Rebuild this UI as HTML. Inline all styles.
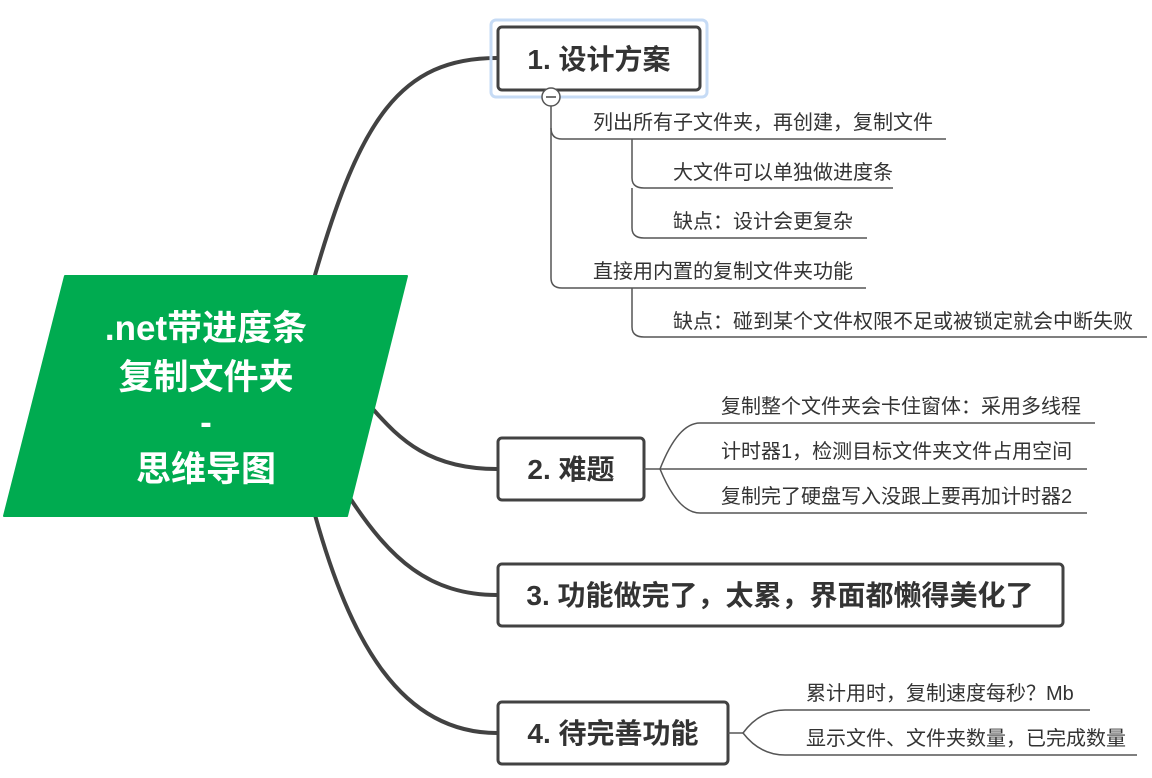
<!DOCTYPE html>
<html><head><meta charset="utf-8"><style>
html,body{margin:0;padding:0;background:#fff;}
svg{display:block;}
text{font-family:"Liberation Sans","Noto Sans CJK SC",sans-serif;}
.t{font-size:20px;fill:#333;}
.b{font-size:28px;font-weight:bold;fill:#333;}
.r{font-size:35px;font-weight:bold;fill:#fff;}
</style></head><body>
<svg width="1152" height="778" viewBox="0 0 1152 778">
<g fill="none" stroke="#424242" stroke-width="4" stroke-linecap="round">
<path d="M315,275 C360,120 400,58 497,58"/>
<path d="M372,408 C400,440 430,469 497,469"/>
<path d="M348,495 C390,560 430,595 497,595"/>
<path d="M315,515 C350,640 400,733 497,733"/>
</g>
<path d="M65,276 L407,276 L347,516 L4,516 Z" fill="#00ab50" stroke="#00ab50" stroke-width="2" stroke-linejoin="round"/>
<text class="r" text-anchor="middle" x="206" y="340">.net带进度条</text>
<text class="r" text-anchor="middle" x="206" y="389">复制文件夹</text>
<text class="r" text-anchor="middle" x="206" y="434">-</text>
<text class="r" text-anchor="middle" x="206" y="481">思维导图</text>

<rect x="491" y="20" width="216" height="77" rx="5" fill="none" stroke="#c6dbf5" stroke-width="3"/>
<rect x="498" y="27" width="202" height="63" rx="4" fill="#fff" stroke="#424242" stroke-width="3"/>
<text class="b" text-anchor="middle" x="599" y="69">1. 设计方案</text>
<rect x="498" y="438" width="146" height="62" rx="4" fill="#fff" stroke="#424242" stroke-width="3"/>
<text class="b" text-anchor="middle" x="571" y="479">2. 难题</text>
<rect x="498" y="564" width="565" height="62" rx="4" fill="#fff" stroke="#424242" stroke-width="3"/>
<text class="b" text-anchor="middle" x="780" y="605">3. 功能做完了，太累，界面都懒得美化了</text>
<rect x="498" y="702" width="230" height="62" rx="4" fill="#fff" stroke="#424242" stroke-width="3"/>
<text class="b" text-anchor="middle" x="613" y="743">4. 待完善功能</text>

<g fill="none" stroke="#555" stroke-width="1.5">
<path d="M551,106 L551,128 Q551,139 562,139 L946,139"/>
<path d="M551,128 L551,278 Q551,288 562,288 L866,288"/>
<path d="M632,139 L632,178 Q632,188 644,188 L893,188"/>
<path d="M632,188 L632,228 Q632,238 644,238 L867,238"/>
<path d="M632,288 L632,327 Q632,337 644,337 L1147,337"/>
<path d="M644,469 L687,469 L1087,469"/>
<path d="M660,469 Q678,423 700,423 L1095,423"/>
<path d="M660,469 Q678,513 700,513 L1087,513"/>
<path d="M728,733 L743,733"/>
<path d="M743,733 Q760,710 785,710 L1090,710"/>
<path d="M743,733 Q760,755 785,755 L1137,755"/>
</g>
<circle cx="551" cy="97" r="9" fill="#fff" stroke="#555" stroke-width="1.5"/>
<line x1="546" y1="97" x2="556" y2="97" stroke="#444" stroke-width="1.5"/>

<text class="t" x="593" y="129">列出所有子文件夹，再创建，复制文件</text>
<text class="t" x="673" y="179">大文件可以单独做进度条</text>
<text class="t" x="673" y="228">缺点：设计会更复杂</text>
<text class="t" x="593" y="278">直接用内置的复制文件夹功能</text>
<text class="t" x="673" y="328">缺点：碰到某个文件权限不足或被锁定就会中断失败</text>
<text class="t" x="721" y="413">复制整个文件夹会卡住窗体：采用多线程</text>
<text class="t" x="721" y="458">计时器1，检测目标文件夹文件占用空间</text>
<text class="t" x="721" y="503">复制完了硬盘写入没跟上要再加计时器2</text>
<text class="t" x="806" y="700">累计用时，复制速度每秒？Mb</text>
<text class="t" x="806" y="745">显示文件、文件夹数量，已完成数量</text>
</svg>
</body></html>
